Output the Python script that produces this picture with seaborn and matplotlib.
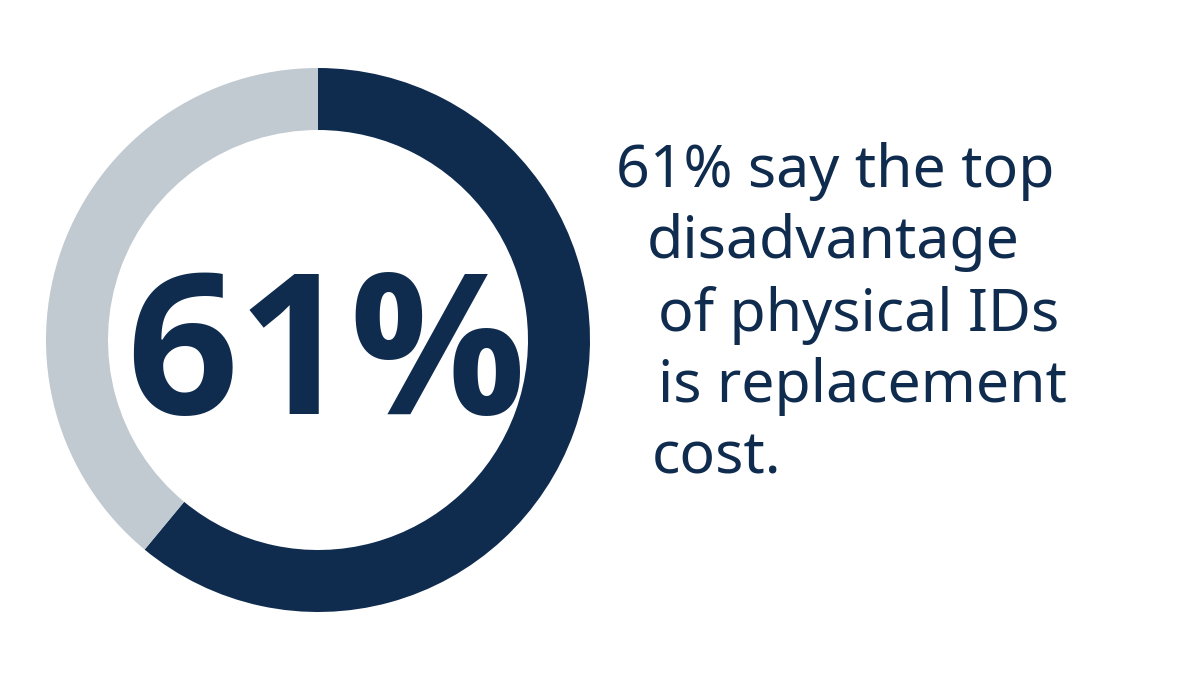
import matplotlib
matplotlib.use("Agg")
import matplotlib.pyplot as plt
import seaborn as sns

# data
shares = [61, 39]
labels = ["Replacement cost", "Other"]
colors = ["#0f2c4f", "#c1c9d1"]
big_label = "61%"
text_lines = ["61% say the top", "disadvantage", "of physical IDs", "is replacement", "cost."]
# left edge (px) and baseline (px from top) for each line, as in the original layout
line_x = [616, 647, 658, 658, 652]
line_y = [187, 258, 331, 402, 473]

sns.set_theme(style="white")
plt.rcParams['font.family'] = ['Noto Sans', 'DejaVu Sans']

W, H = 1200, 700
fig = plt.figure(figsize=(W / 100, H / 100), dpi=100)
fig.patch.set_facecolor("white")

# donut: center (318, 340) px, outer radius 272 px
cx, cy, r = 318, 340, 272
ax = fig.add_axes([(cx - r) / W, (H - cy - r) / H, 2 * r / W, 2 * r / H])
ax.pie(shares, colors=colors, startangle=90, counterclock=False,
       radius=1, wedgeprops=dict(width=62 / r, edgecolor="none"))
ax.set_xlim(-1, 1)
ax.set_ylim(-1, 1)
ax.set_aspect("equal")
ax.axis("off")

fig.text(326 / W, (H - 414) / H, big_label, ha="center", va="baseline",
         fontsize=141, fontweight="bold", color=colors[0],
         family=["Open Sans", "DejaVu Sans"])

for s, x, y in zip(text_lines, line_x, line_y):
    fig.text(x / W, (H - y) / H, s, ha="left", va="baseline",
             fontsize=42.5, color=colors[0])

fig.savefig("out.png", dpi=100, facecolor="white")
